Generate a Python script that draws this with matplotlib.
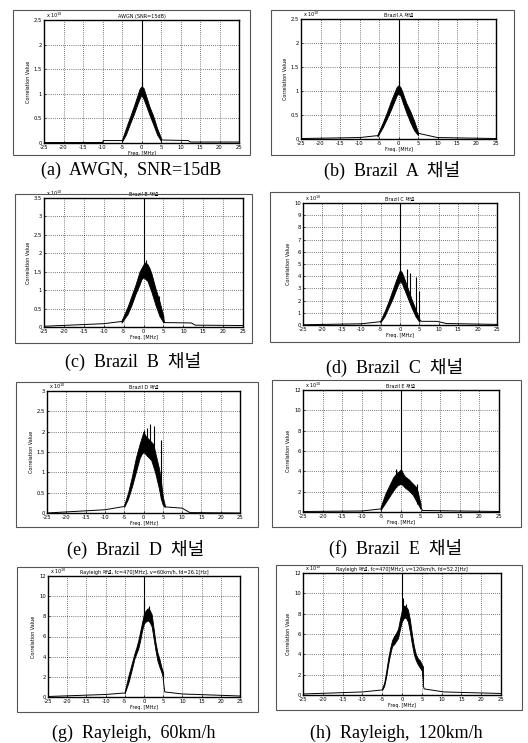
import matplotlib
matplotlib.use("Agg")
import matplotlib.pyplot as plt
from matplotlib.patches import Rectangle

W, H = 528, 743
nan = float("nan")
freq_ticks = [-25, -20, -15, -10, -5, 0, 5, 10, 15, 20, 25]

# (a) AWGN, SNR=15dB
a_base_x = [-25, -10, -9.8, -5.0, nan, 5.0, 5.6, 12, 12.5, 25]
a_base_y = [0.01, 0.01, 0.05, 0.05, nan, 0.07, 0.06, 0.05, 0.02, 0.02]
a_bx = [-5, -4, -3, -2, -1, -0.5, 0, 0.5, 1, 2, 3, 4, 5]
a_lo = [0.03, 0.17, 0.38, 0.58, 0.8, 0.9, 0.98, 0.9, 0.8, 0.58, 0.38, 0.17, 0.04]
a_hi = [0.07, 0.3, 0.52, 0.74, 0.98, 1.1, 1.15, 1.12, 1.0, 0.75, 0.55, 0.3, 0.1]
a_spk_x = [0, 0.1]
a_spk_lo = [0.98, 0.98]
a_spk_y = [2.5, 1.25]

# (b) Brazil A
b_base_x = [-25, -10, -5.4, nan, 5.0, 10, 25]
b_base_y = [0.01, 0.03, 0.07, nan, 0.12, 0.03, 0.01]
b_bx = [-5.4, -4, -3, -2, -1, -0.5, 0, 0.5, 1, 2, 3, 4, 5]
b_lo = [0.05, 0.25, 0.42, 0.6, 0.8, 0.9, 0.95, 0.9, 0.78, 0.55, 0.35, 0.18, 0.08]
b_hi = [0.09, 0.35, 0.55, 0.78, 0.98, 1.08, 1.12, 1.08, 0.98, 0.75, 0.58, 0.38, 0.14]
b_spk_x = [0, 0.1]
b_spk_lo = [0.95, 0.95]
b_spk_y = [2.5, 1.22]

# (c) Brazil B
c_base_x = [-25, -10, -5.5, nan, 5.0, 5.3, 12, 13, 25]
c_base_y = [0.02, 0.09, 0.15, nan, 0.25, 0.12, 0.11, 0.05, 0.04]
c_bx = [-5.5, -4, -3, -2, -1, -0.5, 0, 0.5, 1, 1.5, 2, 3, 4, 5]
c_lo = [0.12, 0.35, 0.6, 0.9, 1.15, 1.3, 1.35, 1.3, 1.25, 1.1, 0.95, 0.6, 0.3, 0.12]
c_hi = [0.18, 0.55, 0.85, 1.15, 1.5, 1.6, 1.7, 1.75, 1.7, 1.6, 1.45, 1.05, 0.7, 0.3]
c_spk_x = [0, 0.7, 3.9]
c_spk_lo = [1.35, 1.3, 0.4]
c_spk_y = [3.5, 1.82, 0.85]

# (d) Brazil C
d_base_x = [-25, -10, -5.1, nan, 5.0, 5.6, 9.5, 12, 25]
d_base_y = [0.02, 0.1, 0.27, nan, 0.4, 0.3, 0.3, 0.12, 0.05]
d_bx = [-5.1, -4, -3, -2, -1, -0.5, 0, 0.5, 1, 2, 3, 4, 5]
d_lo = [0.2, 0.7, 1.4, 2.1, 2.9, 3.3, 3.6, 3.4, 3.0, 2.2, 1.4, 0.7, 0.25]
d_hi = [0.35, 1.1, 1.9, 2.8, 3.7, 4.1, 4.5, 4.3, 3.9, 3.0, 2.1, 1.3, 0.5]
d_spk_x = [0, 1.8, 2.7, 4.0, 4.8]
d_spk_lo = [3.6, 2.6, 1.9, 1.0, 0.4]
d_spk_y = [10, 4.6, 4.3, 3.9, 2.8]

# (e) Brazil D
e_base_x = [-25, -10, -5, nan, 5.5, 5.6, 10, 12, 25]
e_base_y = [0.0, 0.08, 0.16, nan, 0.17, 0.15, 0.12, 0.01, 0.0]
e_bx = [-5, -4, -3, -2, -1, -0.5, 0, 0.5, 1, 1.5, 2, 2.5, 3, 3.5, 4, 4.5, 5, 5.5]
e_lo = [0.15, 0.35, 0.65, 1.0, 1.35, 1.45, 1.5, 1.45, 1.4, 1.35, 1.3, 1.15, 1.0, 0.8, 0.6, 0.35, 0.2, 0.15]
e_hi = [0.2, 0.5, 0.9, 1.35, 1.7, 1.85, 2.0, 1.9, 1.85, 1.8, 1.75, 1.7, 1.5, 1.3, 1.1, 0.8, 0.4, 0.2]
e_spk_x = [0, 0.8, 1.7, 2.6, 4.6]
e_spk_lo = [1.5, 1.4, 1.35, 1.2, 0.35]
e_spk_y = [2.05, 2.1, 2.2, 2.15, 1.8]

# (f) Brazil E
f_base_x = [-25, -10, -5.2, nan, 5, 5.5, 25]
f_base_y = [0.05, 0.1, 0.3, nan, 0.5, 0.15, 0.05]
f_bx = [-5.2, -4, -3, -2, -1, -0.5, 0, 0.5, 1, 2, 3, 4, 5]
f_lo = [0.2, 0.9, 1.5, 2.1, 2.6, 2.7, 2.8, 2.6, 2.4, 2.1, 1.7, 1.0, 0.3]
f_hi = [0.5, 1.8, 2.6, 3.4, 3.9, 4.0, 4.2, 3.8, 3.5, 3.2, 2.8, 2.4, 0.8]
f_spk_x = [-1.3, 0, 0.1, 4.2]
f_spk_lo = [2.5, 2.8, 2.8, 0.8]
f_spk_y = [4.2, 12, 4.6, 2.8]

# (g) Rayleigh, 60km/h
g_base_x = [-25, -10, -5.0, nan, 5.0, 5.4, 10, 25]
g_base_y = [0.05, 0.25, 0.4, nan, 1.8, 0.5, 0.3, 0.1]
g_bx = [-5, -4, -3, -2.5, -2, -1.5, -1, -0.5, 0, 0.5, 1, 1.5, 2, 2.5, 3, 3.5, 4, 4.5, 5]
g_lo = [0.4, 1.5, 3.0, 3.8, 4.3, 4.8, 5.6, 6.6, 7.3, 7.5, 7.6, 7.4, 7.0, 5.8, 4.6, 3.6, 3.0, 2.5, 1.8]
g_hi = [0.6, 2.2, 3.6, 4.3, 4.9, 5.6, 6.5, 7.4, 8.3, 8.6, 8.8, 8.6, 8.2, 6.8, 5.4, 4.4, 3.8, 3.0, 2.4]
g_spk_x = [0, 0.1, 1.2]
g_spk_lo = [7.3, 7.3, 7.5]
g_spk_y = [12, 9.6, 9.0]

# (h) Rayleigh, 120km/h
h_base_x = [-25, -10, -5, nan, 5.3, 5.6, 10.6, 25]
h_base_y = [0.1, 0.3, 0.5, nan, 1.0, 0.6, 0.3, 0.15]
h_bx = [-5, -4.5, -4, -3.5, -3, -2.5, -2, -1.5, -1, -0.5, 0, 0.5, 1, 1.5, 2, 2.5, 3, 3.5, 4, 4.5, 5, 5.3]
h_lo = [0.5, 0.9, 1.8, 3.0, 4.0, 4.8, 5.0, 5.3, 5.6, 6.5, 7.3, 7.6, 7.6, 7.2, 6.2, 5.0, 4.0, 3.4, 3.0, 2.7, 2.4, 1.0]
h_hi = [0.7, 1.2, 2.3, 3.6, 4.6, 5.4, 5.8, 6.1, 6.5, 7.5, 8.4, 8.8, 8.7, 8.4, 7.4, 6.0, 4.8, 4.0, 3.6, 3.4, 3.0, 2.8]
h_spk_x = [0, 0.3, 1.0]
h_spk_lo = [7.3, 7.4, 7.6]
h_spk_y = [12, 9.5, 9.0]

yticks_25 = [0, 0.5, 1, 1.5, 2, 2.5]
yticks_35 = [0, 0.5, 1, 1.5, 2, 2.5, 3, 3.5]
yticks_10 = [0, 1, 2, 3, 4, 5, 6, 7, 8, 9, 10]
yticks_3 = [0, 0.5, 1, 1.5, 2, 2.5, 3]
yticks_12 = [0, 2, 4, 6, 8, 10, 12]

titles = ["AWGN (SNR=15dB)", "Brazil A 채널", "Brazil B 채널", "Brazil C 채널",
          "Brazil D 채널", "Brazil E 채널",
          "Rayleigh 채널, fc=470[MHz], v=60km/h, fd=26.1[Hz]",
          "Rayleigh 채널, fc=470[MHz], v=120km/h, fd=52.2[Hz]"]
captions = ["(a)  AWGN,  SNR=15dB", "(b)  Brazil  A  채널", "(c)  Brazil  B  채널",
            "(d)  Brazil  C  채널", "(e)  Brazil  D  채널", "(f)  Brazil  E  채널",
            "(g)  Rayleigh,  60km/h", "(h)  Rayleigh,  120km/h"]

# pixel layout: axes box (l, t, r, b), outer frame (l, t, r, b), caption (x, y)
axes_px = [(44, 20, 239, 143), (301, 19, 496, 139), (44, 198, 243, 327), (303, 203, 497, 325),
           (47, 391, 240, 513), (303, 390, 499, 512), (48, 576, 240, 697), (303, 573, 501, 695)]
frame_px = [(13, 10, 250, 155), (271, 10, 514, 155), (15, 194, 252, 343), (270, 192, 519, 342),
            (16, 382, 258, 527), (272, 380, 521, 527), (17, 567, 258, 712), (276, 565, 522, 710)]
cap_px = [(131, 170), (392, 170), (133, 361), (395, 367), (136, 549), (396, 548), (134, 733), (396, 733)]

panels = [
    (a_base_x, a_base_y, a_bx, a_lo, a_hi, a_spk_x, a_spk_lo, a_spk_y, yticks_25),
    (b_base_x, b_base_y, b_bx, b_lo, b_hi, b_spk_x, b_spk_lo, b_spk_y, yticks_25),
    (c_base_x, c_base_y, c_bx, c_lo, c_hi, c_spk_x, c_spk_lo, c_spk_y, yticks_35),
    (d_base_x, d_base_y, d_bx, d_lo, d_hi, d_spk_x, d_spk_lo, d_spk_y, yticks_10),
    (e_base_x, e_base_y, e_bx, e_lo, e_hi, e_spk_x, e_spk_lo, e_spk_y, yticks_3),
    (f_base_x, f_base_y, f_bx, f_lo, f_hi, f_spk_x, f_spk_lo, f_spk_y, yticks_12),
    (g_base_x, g_base_y, g_bx, g_lo, g_hi, g_spk_x, g_spk_lo, g_spk_y, yticks_12),
    (h_base_x, h_base_y, h_bx, h_lo, h_hi, h_spk_x, h_spk_lo, h_spk_y, yticks_12),
]

fig = plt.figure(figsize=(W / 100, H / 100), dpi=100)
small = ["DejaVu Sans", "Noto Sans CJK KR"]
serif = ["Liberation Serif", "Noto Sans CJK KR"]

for i, (bx0, by0, bx, lo, hi, sx, slo, sy, yt) in enumerate(panels):
    l, t, r, b = axes_px[i]
    ax = fig.add_axes([l / W, 1 - b / H, (r - l) / W, (b - t) / H])
    ax.plot(bx0, by0, color="black", lw=0.7)
    ax.fill_between(bx, lo, hi, color="black", lw=0.6)
    ax.vlines(sx, slo, sy, color="black", lw=0.8)
    ax.set_xlim(-25, 25)
    ax.set_ylim(yt[0], yt[-1])
    ax.set_xticks(freq_ticks)
    ax.set_yticks(yt)
    ax.set_xticklabels([str(v) for v in freq_ticks])
    ax.set_yticklabels(["%g" % v for v in yt])
    ax.tick_params(direction="in", length=1.5, width=0.5, labelsize=3.8, pad=1.5)
    ax.grid(True, color="black", lw=0.5, linestyle=(0, (1, 2)))
    for s in ax.spines.values():
        s.set_linewidth(1.0)
    ax.set_title(titles[i], fontsize=3.5, pad=1.5, family=small)
    ax.set_xlabel("Freq. [MHz]", fontsize=3.5, labelpad=1)
    ax.set_ylabel("Correlation Value", fontsize=3.5, labelpad=2)
    ax.text(0.01, 1.0, r"x 10$^{10}$", transform=ax.transAxes, fontsize=3.5, va="bottom")

    fl, ft, fr, fb = frame_px[i]
    fig.patches.append(Rectangle((fl / W, 1 - fb / H), (fr - fl) / W, (fb - ft) / H,
                                 transform=fig.transFigure, fill=False, lw=0.8, ec="#555555"))
    cx, cy = cap_px[i]
    fig.text(cx / W, 1 - cy / H, captions[i], ha="center", va="center", fontsize=13, family=serif)

fig.savefig("out.png", dpi=100)
